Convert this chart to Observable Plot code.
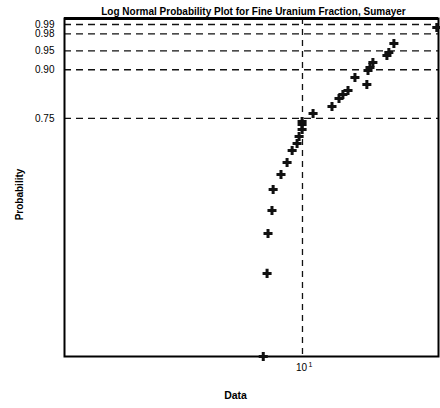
<!DOCTYPE html>
<html>
<head>
<meta charset="utf-8">
<script src="https://cdn.jsdelivr.net/npm/d3@7"></script>
<script src="https://cdn.jsdelivr.net/npm/@observablehq/plot@0.6"></script>
<style>
  html, body { margin: 0; padding: 0; background: #fff; }
  #chart svg { display: block; }
</style>
</head>
<body>
<div id="chart"></div>
<script>
// Data (upper half of the sample; log-normal probability plot)
const dataValues = [8.20, 8.36, 8.40, 8.57, 8.62, 8.97, 9.25, 9.49, 9.73, 9.83, 9.98, 9.98, 9.98,
  10.55, 11.61, 12.03, 12.27, 12.59, 13.85, 13.04, 13.93, 14.07, 14.28, 15.33, 15.48, 15.88, 19.73];
const probabilities = [0.5117, 0.5349, 0.5589, 0.5795, 0.6044, 0.6265, 0.6472, 0.6709, 0.6862, 0.7026,
  0.7202, 0.7334, 0.7416, 0.7643, 0.7852, 0.8099, 0.8226, 0.8353, 0.8544, 0.8765, 0.8978, 0.9067,
  0.9208, 0.9390, 0.9462, 0.9650, 0.9874];
const probTicks = [0.75, 0.90, 0.95, 0.98, 0.99];
const probTickLabels = ["0.75", "0.90", "0.95", "0.98", "0.99"];
const xTicks = [10];
const xTickLabels = ["10"];
const xTickExponents = ["1"];
const title = "Log Normal Probability Plot for Fine Uranium Fraction, Sumayer";
const xLabel = "Data";
const yLabel = "Probability";

// inverse standard normal CDF (Acklam)
function probit(p) {
  const a = [-3.969683028665376e+01, 2.209460984245205e+02, -2.759285104469687e+02, 1.383577518672690e+02, -3.066479806614716e+01, 2.506628277459239e+00];
  const b = [-5.447609879822406e+01, 1.615858368580409e+02, -1.556989798598866e+02, 6.680131188771972e+01, -1.328068155288572e+01];
  const c = [-7.784894002430293e-03, -3.223964580411365e-01, -2.400758277161838e+00, -2.549732539343734e+00, 4.374664141464968e+00, 2.938163982698783e+00];
  const d = [7.784695709041462e-03, 3.224671290700398e-01, 2.445134137142996e+00, 3.754408661907416e+00];
  const pl = 0.02425;
  let q, r;
  if (p < pl) {
    q = Math.sqrt(-2 * Math.log(p));
    return (((((c[0]*q+c[1])*q+c[2])*q+c[3])*q+c[4])*q+c[5]) / ((((d[0]*q+d[1])*q+d[2])*q+d[3])*q+1);
  } else if (p <= 1 - pl) {
    q = p - 0.5; r = q*q;
    return (((((a[0]*r+a[1])*r+a[2])*r+a[3])*r+a[4])*r+a[5])*q / (((((b[0]*r+b[1])*r+b[2])*r+b[3])*r+b[4])*r+1);
  } else {
    q = Math.sqrt(-2 * Math.log(1 - p));
    return -(((((c[0]*q+c[1])*q+c[2])*q+c[3])*q+c[4])*q+c[5]) / ((((d[0]*q+d[1])*q+d[2])*q+d[3])*q+1);
  }
}

const points = dataValues.map((v, i) => ({x: v, z: probit(probabilities[i])}));
const tickZ = probTicks.map(probit);
const yTickRows = tickZ.map((z, i) => ({z, label: probTickLabels[i]}));
const xTickRows = xTicks.map((t, i) => ({t, label: xTickLabels[i], exp: xTickExponents[i]}));

const font = "'Liberation Sans', Arial, Helvetica, sans-serif";

const chart = Plot.plot({
  width: 440,
  height: 408,
  marginTop: 18,
  marginBottom: 52,
  marginLeft: 64,
  marginRight: 2,
  style: {fontFamily: font, background: "#fff", color: "#000"},
  x: {type: "log", domain: [3, 19.9], axis: null},
  y: {type: "log", domain: [0.0293, 2.518], axis: null},
  marks: [
    Plot.ruleY(tickZ, {stroke: "#111", strokeWidth: 1.3, strokeDasharray: "7,5"}),
    Plot.ruleX(xTicks, {stroke: "#111", strokeWidth: 1.3, strokeDasharray: "6,5"}),
    // y tick labels
    Plot.text(yTickRows, {y: "z", text: "label", frameAnchor: "left", textAnchor: "end", dx: -10, fontSize: 10, fill: "#000"}),
    // x tick labels
    Plot.text(xTickRows, {x: "t", text: "label", frameAnchor: "bottom", dy: 14, dx: -1, fontSize: 10, fill: "#000"}),
    Plot.text(xTickRows, {x: "t", text: "exp", frameAnchor: "bottom", dy: 10, dx: 8, fontSize: 7, fill: "#000"}),
    Plot.frame({stroke: "#000", strokeWidth: 2}),
    Plot.ruleY([2.518], {stroke: "#000", strokeWidth: 3}),
    Plot.dot(points, {x: "x", y: "z", symbol: "cross", r: 3.8, fill: "#111", stroke: "none"}),
    Plot.text([title], {frameAnchor: "top", dy: -10.5, dx: 2, fontWeight: "bold", fontSize: 10, fill: "#000"}),
    Plot.text([yLabel], {frameAnchor: "left", textAnchor: "middle", dx: -45, dy: 7, rotate: -90, fontWeight: "bold", fontSize: 10, fill: "#000"}),
    Plot.text([xLabel], {frameAnchor: "bottom", dy: 42, dx: -16, fontWeight: "bold", fontSize: 10.5, fill: "#000"})
  ]
});
document.getElementById("chart").appendChild(chart);
</script>
</body>
</html>
